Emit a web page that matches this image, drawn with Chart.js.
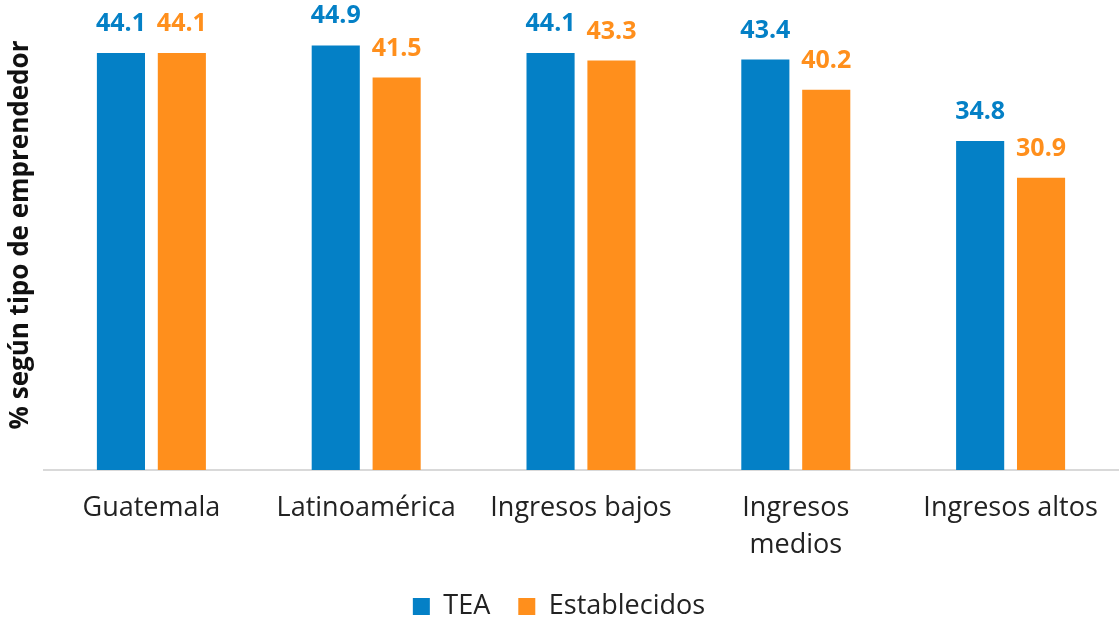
<!DOCTYPE html>
<html>
<head>
<meta charset="utf-8">
<script src="https://cdn.jsdelivr.net/npm/chart.js@4/dist/chart.umd.min.js"></script>
<style>
  html, body { margin: 0; padding: 0; background: #fff; }
  #wrap { width: 1119px; height: 620px; position: relative; }
</style>
</head>
<body>
<div id="wrap"><canvas id="chart"></canvas></div>
<script>
const categories = ['Guatemala', 'Latinoamérica', 'Ingresos bajos', ['Ingresos', 'medios'], 'Ingresos altos'];
const teaValues = [44.1, 44.9, 44.1, 43.4, 34.8];
const establecidosValues = [44.1, 41.5, 43.3, 40.2, 30.9];

const FONT = "'Open Sans', sans-serif";
const BLUE = '#0480C6';
const ORANGE = '#FF8F1C';

// writes each bar's value above it, in the bar's colour
const valueLabels = {
  id: 'valueLabels',
  afterDatasetsDraw(chart) {
    const ctx = chart.ctx;
    ctx.save();
    ctx.font = `bold 25px ${FONT}`;
    ctx.textAlign = 'center';
    ctx.textBaseline = 'alphabetic';
    chart.data.datasets.forEach((ds, i) => {
      ctx.fillStyle = ds.backgroundColor;
      chart.getDatasetMeta(i).data.forEach((bar, j) => {
        ctx.fillText(ds.data[j].toFixed(1), bar.x, bar.y - 22);
      });
    });
    ctx.restore();
  }
};

new Chart(document.getElementById('chart'), {
  type: 'bar',
  data: {
    labels: categories,
    datasets: [
      { label: 'TEA', data: teaValues, backgroundColor: BLUE },
      { label: 'Establecidos', data: establecidosValues, backgroundColor: ORANGE }
    ]
  },
  options: {
    responsive: true,
    maintainAspectRatio: false,
    animation: false,
    categoryPercentage: 0.567,
    barPercentage: 0.79,
    layout: { padding: { top: 0, right: 1, bottom: -10, left: 0 } },
    plugins: {
      legend: {
        position: 'bottom',
        labels: {
          color: '#222',
          font: { family: FONT, size: 27 },
          boxWidth: 17,
          boxHeight: 17,
          padding: 28
        }
      },
      tooltip: { enabled: false }
    },
    scales: {
      x: {
        grid: { display: false },
        border: { display: true, color: '#D9D9D9', width: 2 },
        ticks: {
          color: '#222',
          font: { family: FONT, size: 27, lineHeight: 1.37 },
          padding: 12,
          maxRotation: 0,
          autoSkip: false
        },
        // fixed height keeps the baseline where the bars should sit
        afterFit(scale) { scale.height = 95; }
      },
      y: {
        min: 0,
        max: 49.7,
        grid: { display: false },
        border: { display: false },
        ticks: { display: false },
        title: {
          display: true,
          text: '% según tipo de emprendedor',
          color: '#111',
          font: { family: FONT, size: 26, weight: 'bold' },
          padding: { top: 5, bottom: 0 }
        },
        afterFit(scale) { scale.width = 44; }
      }
    }
  },
  plugins: [valueLabels]
});
</script>
</body>
</html>
